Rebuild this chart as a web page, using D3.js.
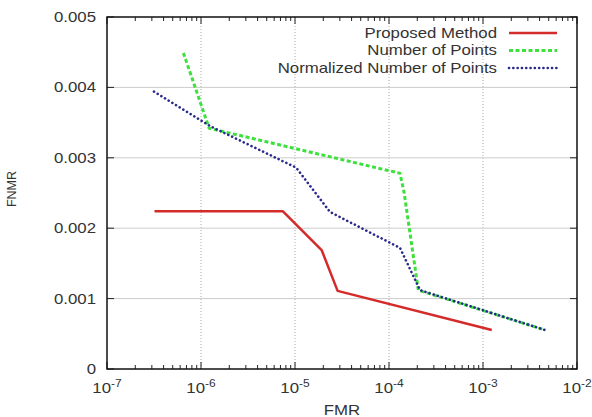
<!DOCTYPE html>
<html>
<head>
<meta charset="utf-8">
<script src="https://cdn.jsdelivr.net/npm/d3@7"></script>
<style>
  body { margin: 0; background: #fff; }
  text { font-family: "Liberation Sans", Arial, sans-serif; fill: #333; }
</style>
</head>
<body>
<div id="chart"></div>
<script>
// data
const seriesNames = ["Proposed Method", "Number of Points", "Normalized Number of Points"]
const proposedFmr = [3.2e-7, 7.45e-6, 1.92e-5, 2.84e-5, 1.24e-3]
const proposedFnmr = [0.00224, 0.00224, 0.00169, 0.00111, 0.000554]
const pointsFmr = [6.5e-7, 1.22e-6, 1.31e-4, 1.45e-4, 2.05e-4, 4.57e-3]
const pointsFnmr = [0.00449, 0.00342, 0.00278, 0.00250, 0.00112, 0.000554]
const normFmr = [3.16e-7, 1.25e-6, 1.03e-5, 2.36e-5, 1.31e-4, 1.7e-4, 2.14e-4, 4.57e-3]
const normFnmr = [0.00394, 0.00345, 0.00286, 0.00223, 0.00172, 0.00140, 0.00112, 0.000554]
const xTicks = [1e-7, 1e-6, 1e-5, 1e-4, 1e-3, 1e-2]
const yTicks = [0, 0.001, 0.002, 0.003, 0.004, 0.005]

const W = 592, H = 417
const marginLeft = 107, marginRight = 15, marginTop = 17, marginBottom = 48
const width = W - marginLeft - marginRight
const height = H - marginTop - marginBottom
const fontSize = "14px"
const stretch = 1.2   // the original picture is wider than tall, text looks stretched

const svg = d3.select("#chart").append("svg")
  .attr("width", W).attr("height", H)

const x = d3.scaleLog().domain([1e-7, 1e-2]).range([marginLeft, marginLeft + width])
const y = d3.scaleLinear().domain([0, 0.005]).range([marginTop + height, marginTop])

// helper: horizontally stretched text at (px, py)
function label(px, py, anchor) {
  return svg.append("g")
    .attr("transform", `translate(${px},${py}) scale(${stretch},1)`)
    .append("text")
    .attr("text-anchor", anchor)
    .style("font-size", fontSize)
}

// grid
svg.selectAll(".xgrid")
  .data(xTicks.slice(1, -1))
  .join("line")
  .attr("x1", d => x(d)).attr("x2", d => x(d))
  .attr("y1", marginTop).attr("y2", marginTop + height)
  .attr("stroke", "#aaa").attr("stroke-width", 1)
  .attr("stroke-dasharray", "1,2")

svg.selectAll(".ygrid")
  .data(yTicks.slice(1, -1))
  .join("line")
  .attr("x1", marginLeft).attr("x2", marginLeft + width)
  .attr("y1", d => y(d)).attr("y2", d => y(d))
  .attr("stroke", "#ccc").attr("stroke-width", 1)

// minor + major ticks on x (bottom and top, pointing in)
const minor = []
for (let e = -7; e < -2; e++) {
  for (let k = 2; k < 10; k++) minor.push(k * Math.pow(10, e))
}
const tickG = svg.append("g").attr("stroke", "#222").attr("stroke-width", 1)
minor.forEach(d => {
  tickG.append("line").attr("x1", x(d)).attr("x2", x(d))
    .attr("y1", marginTop + height).attr("y2", marginTop + height - 4)
  tickG.append("line").attr("x1", x(d)).attr("x2", x(d))
    .attr("y1", marginTop).attr("y2", marginTop + 4)
})
xTicks.forEach(d => {
  tickG.append("line").attr("x1", x(d)).attr("x2", x(d))
    .attr("y1", marginTop + height).attr("y2", marginTop + height - 7)
  tickG.append("line").attr("x1", x(d)).attr("x2", x(d))
    .attr("y1", marginTop).attr("y2", marginTop + 7)
})
yTicks.forEach(d => {
  tickG.append("line").attr("x1", marginLeft).attr("x2", marginLeft + 7)
    .attr("y1", y(d)).attr("y2", y(d))
  tickG.append("line").attr("x1", marginLeft + width).attr("x2", marginLeft + width - 7)
    .attr("y1", y(d)).attr("y2", y(d))
})

// frame
svg.append("rect")
  .attr("x", marginLeft).attr("y", marginTop)
  .attr("width", width).attr("height", height)
  .attr("fill", "none").attr("stroke", "#111").attr("stroke-width", 1.5)

// tick labels
yTicks.forEach(d => {
  label(marginLeft - 11, y(d), "end")
    .attr("dy", "0.35em")
    .text(d === 0 ? "0" : d.toFixed(3))
})

xTicks.forEach(d => {
  const t = label(x(d), marginTop + height + 24, "middle")
  t.append("tspan").text("10")
  t.append("tspan").attr("dy", -6).style("font-size", "10px")
    .text("-" + Math.round(-Math.log10(d)))
})

// axis titles
label(x(10 ** -4.5), H - 2, "middle").text("FMR")

svg.append("text")
  .attr("transform", `translate(16, ${marginTop + height / 2 - 4}) rotate(-90)`)
  .attr("text-anchor", "middle")
  .style("font-size", "12.5px")
  .text("FNMR")

// lines
const series = [
  { name: seriesNames[0], xs: proposedFmr, ys: proposedFnmr, color: "#d42a2a", width: 2.5, dash: null, cap: "butt" },
  { name: seriesNames[1], xs: pointsFmr, ys: pointsFnmr, color: "#3ee03e", width: 3, dash: "4,2.5", cap: "butt" },
  { name: seriesNames[2], xs: normFmr, ys: normFnmr, color: "#2a2a8c", width: 2.6, dash: "0.1,4.2", cap: "round" }
]

const line = d3.line().x(d => x(d[0])).y(d => y(d[1]))

series.forEach((s, i) => {
  svg.append("path")
    .datum(s.xs.map((v, j) => [v, s.ys[j]]))
    .attr("fill", "none")
    .attr("stroke", s.color)
    .attr("stroke-width", s.width)
    .attr("stroke-dasharray", s.dash)
    .attr("stroke-linecap", s.cap)
    .attr("stroke-linejoin", "round")
    .attr("d", line)

  // legend
  const ly = 33 + i * 17.5
  label(497, ly, "end").attr("dy", "0.35em").text(s.name)
  svg.append("line")
    .attr("x1", 509).attr("x2", 557)
    .attr("y1", ly).attr("y2", ly)
    .attr("stroke", s.color)
    .attr("stroke-width", s.width)
    .attr("stroke-dasharray", s.dash)
    .attr("stroke-linecap", s.cap)
})
</script>
</body>
</html>
